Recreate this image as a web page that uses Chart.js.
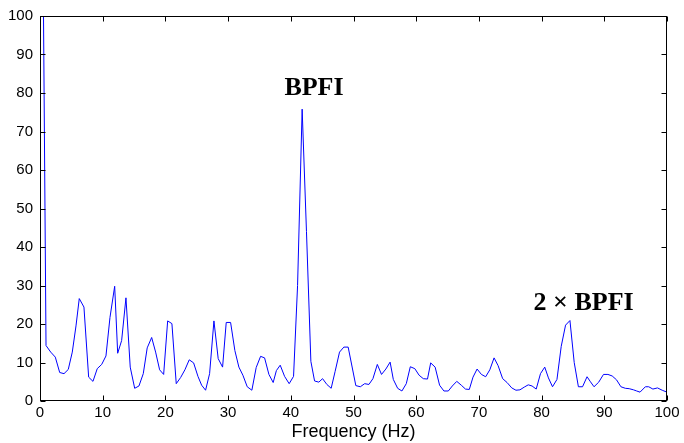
<!DOCTYPE html>
<html>
<head>
<meta charset="utf-8">
<script src="https://cdn.jsdelivr.net/npm/chart.js@4/dist/chart.umd.min.js"></script>
<style>
  html, body { margin: 0; padding: 0; background: #fff; }
  #wrap { width: 684px; height: 443px; }
</style>
</head>
<body>
<div id="wrap"><canvas id="c" width="684" height="443"></canvas></div>
<script>
// spectrum: frequency (Hz) and amplitude
const freqHz = [
  0.28, 0.96, 1.71, 2.44, 3.14, 3.83, 4.51, 5.15, 5.74, 6.26,
  7.01, 7.76, 8.45, 9.13, 9.84, 10.52, 11.16, 11.91, 12.39, 13.02,
  13.71, 14.39, 15.10, 15.78, 16.47, 17.10, 17.81, 18.44, 19.08, 19.72,
  20.36, 21.04, 21.73, 22.43, 23.11, 23.80, 24.50, 25.19, 25.78, 26.41,
  27.05, 27.74, 28.42, 29.12, 29.70, 30.40, 31.08, 31.72, 32.36, 33.05,
  33.79, 34.48, 35.18, 35.82, 36.51, 37.19, 37.70, 38.31, 39.01, 39.74,
  40.44, 41.08, 41.81, 42.50, 43.20, 43.79, 44.47, 45.07, 45.75, 46.44,
  47.07, 47.77, 48.46, 49.15, 50.37, 51.09, 51.78, 52.46, 53.10, 53.80,
  54.47, 55.16, 55.84, 56.35, 57.04, 57.72, 58.42, 59.06, 59.78, 60.46,
  61.13, 61.80, 62.31, 63.02, 63.73, 64.42, 65.12, 65.76, 66.47, 67.19,
  67.86, 68.47, 69.06, 69.71, 70.40, 71.08, 71.74, 72.42, 73.06, 73.79,
  74.49, 75.24, 75.91, 76.55, 77.23, 77.87, 78.48, 79.14, 79.82, 80.50,
  81.09, 81.74, 82.45, 83.13, 83.82, 84.52, 85.20, 85.87, 86.53, 87.25,
  87.79, 88.36, 89.11, 89.87, 90.58, 91.26, 91.95, 92.65, 93.35, 93.97,
  94.66, 95.17, 95.70, 96.55, 97.08, 97.75, 98.48, 99.23, 100.0
];
const amplitude = [
  160, 14.4, 12.7, 11.4, 7.4, 7.1, 8.2, 12.7, 19.5, 26.6,
  24.4, 6.2, 5.1, 8.4, 9.5, 11.7, 21.7, 29.8, 12.4, 15.7,
  26.8, 8.8, 3.3, 3.9, 7.1, 13.8, 16.5, 12.7, 8.1, 6.9,
  20.8, 20.1, 4.5, 6.1, 8.1, 10.7, 9.9, 6.4, 4.1, 2.8,
  7.1, 20.8, 11.0, 8.8, 20.4, 20.4, 13.1, 8.8, 6.7, 3.7,
  2.8, 8.7, 11.6, 11.2, 6.9, 4.8, 7.9, 9.3, 6.4, 4.5,
  6.4, 30, 75.8, 44, 10.3, 5.2, 4.9, 5.8, 4.3, 3.3,
  7.7, 12.7, 14.0, 14.0, 4.0, 3.7, 4.5, 4.3, 5.8, 9.5,
  6.9, 8.3, 10.1, 5.6, 3.3, 2.6, 4.5, 8.9, 8.4, 6.7,
  5.8, 5.7, 9.9, 8.8, 4.1, 2.6, 2.6, 3.9, 5.1, 4.1,
  3.1, 3.0, 6.2, 8.3, 6.9, 6.3, 8.1, 11.2, 9.2, 5.8,
  4.8, 3.4, 2.8, 2.9, 3.6, 4.2, 3.9, 3.1, 7.1, 8.8,
  6.0, 3.7, 5.6, 14.2, 19.7, 20.9, 10.0, 3.7, 3.7, 6.3,
  5.0, 3.7, 4.9, 6.9, 6.9, 6.5, 5.5, 3.7, 3.3, 3.2,
  2.9, 2.6, 2.3, 3.7, 3.7, 3.1, 3.4, 2.8, 2.3
];
const xTitle = 'Frequency (Hz)';
const peakLabels = [
  { text: 'BPFI', x: 43.7, y: 81.2 },
  { text: '2 \u00d7 BPFI', x: 86.7, y: 25.4 }
];

const tickFont = { family: '"Liberation Sans", Arial, sans-serif', size: 15 };

// MATLAB style box with inward ticks plus the peak captions
const boxPlugin = {
  id: 'box',
  afterDraw(chart) {
    const { ctx, chartArea: a, scales } = chart;
    const L = Math.round(a.left) + 0.5, R = Math.round(a.right) - 0.5;
    const T = Math.round(a.top) + 0.5, B = Math.round(a.bottom) - 0.5;
    ctx.save();
    ctx.strokeStyle = '#000';
    ctx.lineWidth = 1;
    ctx.strokeRect(L, T, R - L, B - T);
    ctx.beginPath();
    scales.x.ticks.forEach(t => {
      const p = Math.round(scales.x.getPixelForValue(t.value)) + 0.5;
      ctx.moveTo(p, B); ctx.lineTo(p, B - 5);
      ctx.moveTo(p, T); ctx.lineTo(p, T + 5);
    });
    scales.y.ticks.forEach(t => {
      const p = Math.round(scales.y.getPixelForValue(t.value)) + 0.5;
      ctx.moveTo(L, p); ctx.lineTo(L + 5, p);
      ctx.moveTo(R, p); ctx.lineTo(R - 5, p);
    });
    ctx.stroke();
    ctx.fillStyle = '#000';
    ctx.font = 'bold 26px "Liberation Serif", "Times New Roman", serif';
    ctx.textAlign = 'center';
    ctx.textBaseline = 'middle';
    peakLabels.forEach(l => {
      ctx.fillText(l.text, scales.x.getPixelForValue(l.x), scales.y.getPixelForValue(l.y));
    });
    ctx.restore();
  }
};

new Chart(document.getElementById('c'), {
  type: 'line',
  data: {
    datasets: [{
      data: freqHz.map((f, i) => ({ x: f, y: amplitude[i] })),
      borderColor: '#0000ff',
      borderWidth: 1,
      pointRadius: 0,
      tension: 0,
      fill: false
    }]
  },
  options: {
    responsive: false,
    animation: false,
    layout: { padding: { top: 12, right: 17, left: 0, bottom: 0 } },
    plugins: { legend: { display: false }, tooltip: { enabled: false } },
    scales: {
      x: {
        type: 'linear',
        min: 0,
        max: 100,
        afterFit: s => { s.height = 42; },
        ticks: { stepSize: 10, color: '#000', font: tickFont, padding: 3, maxRotation: 0 },
        grid: { display: false, drawTicks: false, tickLength: 0 },
        border: { display: false },
        title: {
          display: true,
          text: xTitle,
          color: '#000',
          font: { family: '"Liberation Sans", Arial, sans-serif', size: 18 },
          padding: { top: 0, bottom: 0 }
        }
      },
      y: {
        min: 0,
        max: 100,
        afterFit: s => { s.width = 40; },
        ticks: { stepSize: 10, color: '#000', font: tickFont, padding: 7 },
        grid: { display: false, drawTicks: false, tickLength: 0 },
        border: { display: false }
      }
    }
  },
  plugins: [boxPlugin]
});
</script>
</body>
</html>
